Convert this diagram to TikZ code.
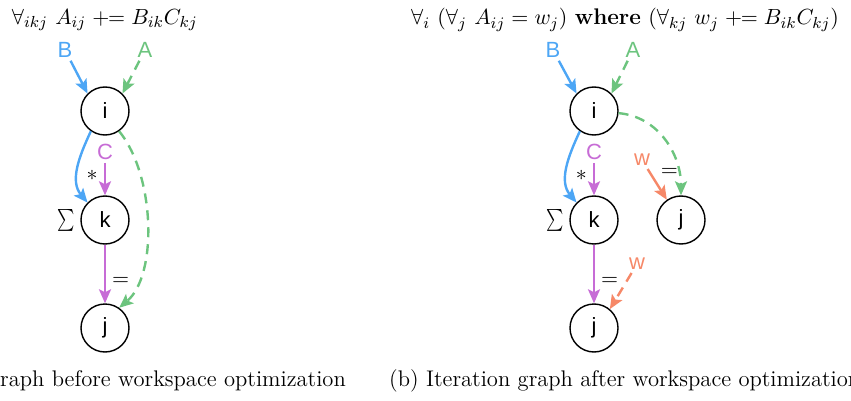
\documentclass[tikz,border=0pt]{standalone}
\usepackage{fontspec}
\usepackage{amsmath}
\usepackage{graphicx}
\newfontfamily\labelfont{Liberation Sans}
\usetikzlibrary{arrows.meta}

\definecolor{bblue}{RGB}{77,166,245}
\definecolor{agreen}{RGB}{108,196,126}
\definecolor{cmagenta}{RGB}{199,108,214}
\definecolor{worange}{RGB}{246,136,104}

\newcommand{\redsum}{\scalebox{0.75}[1]{$\sum$}}

\begin{document}
\begin{tikzpicture}[x=0.5pt, y=-0.5pt, line width=1.2pt,
  idx/.style={circle, draw=black, line width=0.7pt, minimum size=24pt, inner sep=0pt, font=\labelfont\fontsize{11}{13}\selectfont},
  tensor/.style={font=\labelfont\fontsize{11}{13}\selectfont, inner sep=1pt},
  flow/.style={-{Stealth[length=7pt,width=6pt,inset=1.5pt]}},
  dashy/.style={dash pattern=on 5pt off 3.5pt},
  lbl/.style={font=\fontsize{11}{13}\selectfont, inner sep=1pt},
  big/.style={font=\fontsize{11.3}{13}\selectfont}]

\useasboundingbox (0,0) rectangle (851,401);
\clip (0,0) rectangle (851,401);

% ---------------- (a) before ----------------
\node[big, anchor=west] (titleA) at (4,20) {$\forall_{ikj}\ A_{ij} \mathrel{+\!\!=} B_{ik}C_{kj}$};

% index nodes
\node[idx] (i) at (105,111) {i};
\node[idx, label={[lbl, inner sep=2pt]left:\redsum}] (k) at (105,220) {k};
\node[idx] (j) at (105,328) {j};

% tensor inputs
\node[tensor, text=bblue] (B) at (65,50) {B};
\node[tensor, text=agreen] (A) at (145,50) {A};
\node[tensor, text=cmagenta] (C) at (105,152) {C};

\draw[flow, bblue] (B) -- (i.135);
\draw[flow, agreen, dashy] (A) -- (i.45);
\draw[flow, bblue] (i.-125) to[out=-115, in=130] node[lbl, pos=0.6, right=3pt, text=black] {$*$} (k.135);
\draw[flow, cmagenta] (C) -- (k);
\draw[flow, cmagenta] (k) -- node[lbl, pos=0.62, right=2pt, text=black] {$=$} (j);
\draw[flow, agreen, dashy] (i.-55) .. controls (155,175) and (158,275) .. (j.55);

\node[big, anchor=east, inner sep=0pt] (capA) at (347,381) {(a) Iteration graph before workspace optimization};

% ---------------- (b) after ----------------
\node[big] (titleB) at (625,20) {$\forall_{i}\ (\forall_{j}\ A_{ij} = w_j)\ \textbf{where}\ (\forall_{kj}\ w_j \mathrel{+\!\!=} B_{ik}C_{kj})$};

% index nodes
\node[idx] (i2) at (594,111) {i};
\node[idx, label={[lbl, inner sep=2pt]left:\redsum}] (k2) at (594,220) {k};
\node[idx] (j2) at (594,328) {j};
\node[idx] (jw) at (681,220) {j};

% tensor inputs
\node[tensor, text=bblue] (B2) at (553,50) {B};
\node[tensor, text=agreen] (A2) at (633,50) {A};
\node[tensor, text=cmagenta] (C2) at (594,152) {C};
\node[tensor, text=worange] (w1) at (642,160) {w};
\node[tensor, text=worange] (w2) at (637,264) {w};

\draw[flow, bblue] (B2) -- (i2.135);
\draw[flow, agreen, dashy] (A2) -- (i2.45);
\draw[flow, bblue] (i2.-125) to[out=-115, in=130] node[lbl, pos=0.6, right=3pt, text=black] {$*$} (k2.135);
\draw[flow, cmagenta] (C2) -- (k2);
\draw[flow, cmagenta] (k2) -- node[lbl, pos=0.62, right=2pt, text=black] {$=$} (j2);
\draw[flow, agreen, dashy] (i2.-5) to[out=-5, in=90] (jw.north);
\draw[flow, worange] (w1) -- node[lbl, pos=0.1, right=4pt, text=black] {$=$} (jw.125);
\draw[flow, worange, dashy] (w2) -- (j2.50);

\node[big, anchor=west, inner sep=0pt] (capB) at (388,381) {(b) Iteration graph after workspace optimization};

\end{tikzpicture}
\end{document}
